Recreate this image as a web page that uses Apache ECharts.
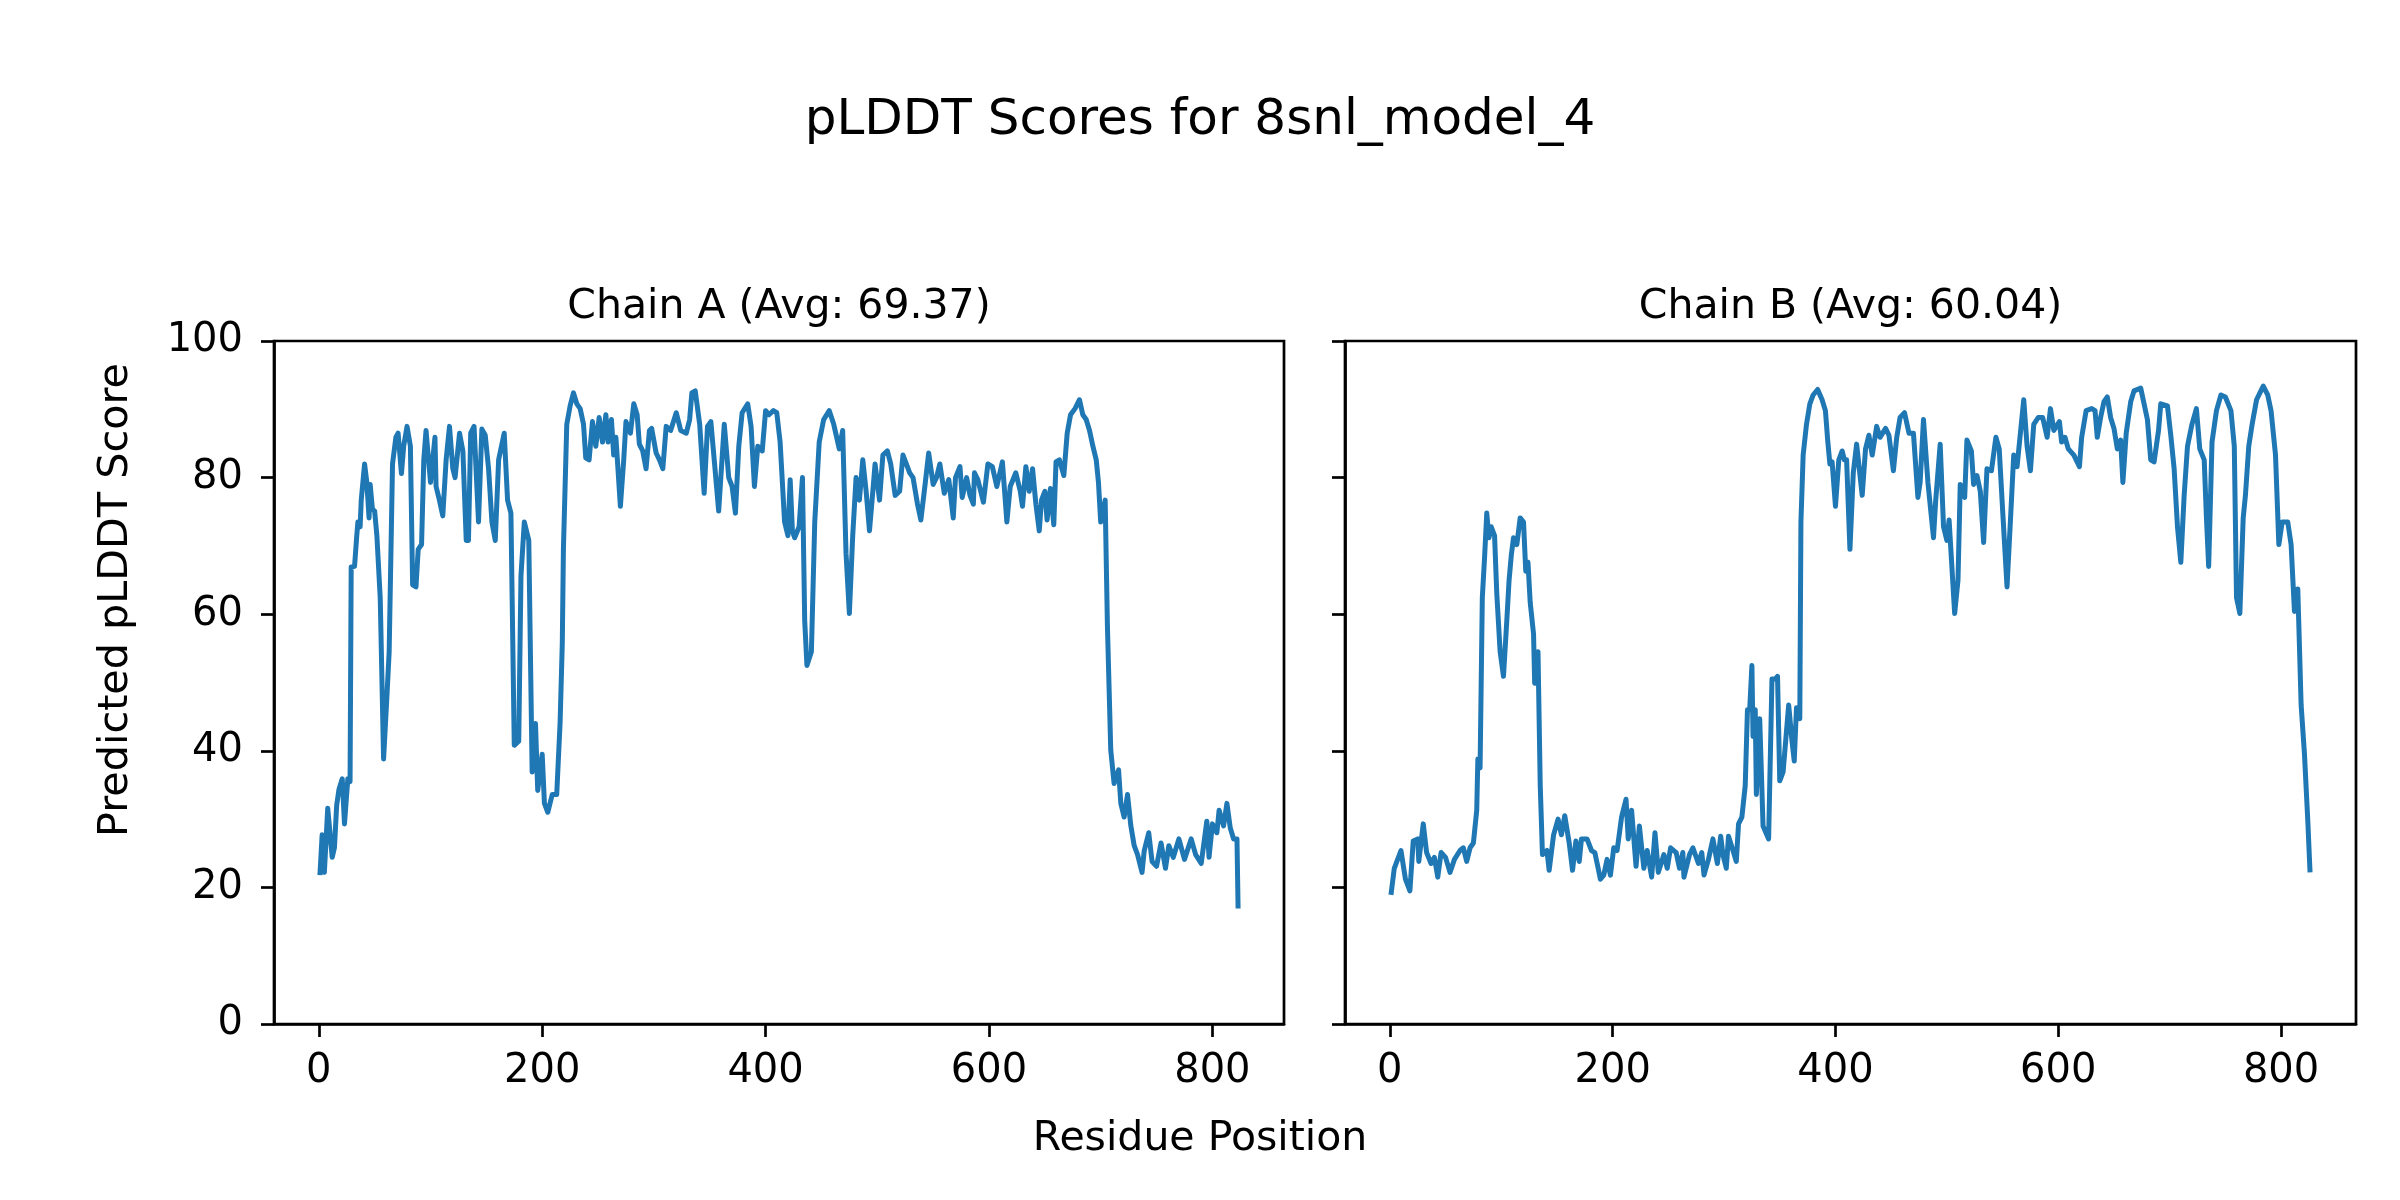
<!DOCTYPE html>
<html>
<head>
<meta charset="utf-8">
<script src="https://cdn.jsdelivr.net/npm/echarts@6/dist/echarts.min.js"></script>
<style>
html,body{margin:0;padding:0;background:#fff;}
#chart{width:2400px;height:1200px;}
</style>
</head>
<body>
<div id="chart"></div>
<script>
// ---------- data ----------
const figureTitle = "pLDDT Scores for 8snl_model_4";
const chainTitles = ["Chain A (Avg: 69.37)", "Chain B (Avg: 60.04)"];
const xAxisLabel = "Residue Position";
const yAxisLabel = "Predicted pLDDT Score";
const xTickValues = [0, 200, 400, 600, 800];
const yTickValues = [0, 20, 40, 60, 80, 100];

const chainAResidues = [1,3,5,8,12,14,16,18,21,23,26,28,29,32,34,35,37,38,41,43,45,46,48,50,52,55,58,61,63,66,69,71,74,76,79,82,84,87,89,92,94,96,100,104,105,108,111,114,117,120,122,126,129,132,134,136,139,143,146,149,152,155,158,161,166,169,172,175,179,181,184,188,191,194,196,200,202,205,209,213,216,218,219,222,225,228,231,234,237,239,242,245,248,251,254,257,259,262,264,266,270,273,275,279,282,285,287,290,293,296,298,302,305,308,311,315,320,324,329,332,334,337,341,345,348,351,354,358,363,367,370,373,376,379,384,387,390,393,397,400,403,407,410,413,417,420,422,424,426,430,433,435,437,441,444,448,452,457,461,466,469,472,475,478,481,484,487,490,493,496,498,502,505,509,512,516,520,523,526,529,532,536,539,543,546,550,553,556,560,564,568,570,574,576,580,583,586,587,590,595,599,603,607,612,616,619,624,628,630,633,636,639,642,645,647,650,652,655,658,660,663,667,670,673,677,681,684,687,690,693,696,698,700,704,706,709,712,716,718,721,724,727,730,733,737,739,743,746,750,754,758,761,765,770,775,781,785,790,795,797,800,804,806,810,813,816,819,822,823];
const chainAScores = [21.8,27.7,22.2,31.6,24.4,25.8,32,34.3,35.9,29.3,35.9,35.5,66.9,67,71.5,73.5,72.8,76.7,82,79.3,74.1,79,75.4,75.1,71.5,62.4,38.8,48,54.5,82,85.9,86.5,80.6,84.6,87.5,84.6,64.3,64,69.5,70.2,82.6,86.9,79.3,85.9,78.7,76.7,74.4,82.6,87.5,81.3,80,86.5,83.9,70.8,70.8,86.5,87.5,73.5,87.1,86.2,81.3,73.5,70.8,82.6,86.5,76.7,74.8,40.8,41.4,65.6,73.5,70.8,36.9,44,34.2,39.5,32.3,31,33.6,33.6,44,55.8,69.5,87.8,90.5,92.4,90.8,90.1,87.8,82.9,82.6,88.2,84.6,88.8,85.2,89.2,85.2,88.5,83.3,85.9,75.8,82.6,88.2,86.5,90.8,89.2,84.9,83.9,81.3,86.9,87.2,83.6,82.6,81.3,87.5,86.9,89.5,86.9,86.5,88.5,92.4,92.7,87.8,77.7,87.5,88.2,82.6,75.1,87.8,80,78.7,74.8,84.6,89.5,90.8,87.5,78.7,84.6,83.9,89.8,89.2,89.8,89.5,85.2,73.5,71.5,79.7,72.2,71.2,72.8,80,59.1,52.5,54.5,73.5,85.2,88.5,89.8,87.8,84.2,86.9,68.9,60.1,71.5,80,76.7,82.6,78,72.2,78,82,76.7,83.3,83.9,82,77.4,78,83.3,82,80.7,80,76.1,73.8,79.3,83.6,79,80,82,77.7,79.7,74.1,80,81.6,77.1,80,77.4,76.1,80.7,79.7,76.4,82,81.6,78.7,82.3,73.5,78.7,80.7,78,75.8,81.6,78,81.3,76.1,72.2,76.7,78,73.8,78.4,73.1,82.3,82.6,80.3,86.5,89.2,90.1,91.4,89.2,88.5,86.9,84.6,82.6,79.3,73.5,76.7,58.4,40.1,35.2,37.2,32.3,30.3,33.6,29,26.1,24.8,22.2,25.4,28,23.8,23.1,26.5,22.8,26.1,24.4,27.1,24.1,27.1,24.8,23.5,29.7,24.4,29.3,28,31.3,29,32.3,28.7,27.1,27.1,16.9];

const chainBResidues = [1,2,4,7,10,14,18,21,25,26,30,33,37,40,43,46,50,54,58,63,66,69,72,75,78,79,81,83,85,87,89,91,94,96,99,102,105,107,109,111,114,117,120,122,124,126,129,130,133,135,137,141,143,147,151,154,157,161,164,167,170,172,177,181,184,187,189,192,195,198,201,204,208,212,214,217,221,224,228,231,235,238,241,246,249,252,257,260,263,264,269,272,277,280,282,286,290,294,297,299,302,304,308,311,313,316,319,321,323,325,326,328,329,332,335,340,343,346,348,350,353,358,361,363,365,368,369,371,374,377,380,384,388,391,393,395,397,400,403,406,408,410,413,416,419,424,427,430,433,437,440,445,448,452,455,458,462,466,470,474,476,479,483,488,490,494,497,500,502,507,510,512,516,518,522,524,527,530,533,536,540,544,547,550,554,557,560,563,566,569,572,575,578,582,586,590,593,596,601,603,606,609,614,619,621,625,630,633,635,638,641,644,647,650,653,656,658,661,665,668,674,677,680,683,686,688,690,692,698,701,704,707,710,713,716,720,724,727,731,733,735,738,742,746,750,755,758,760,763,766,768,771,774,778,781,784,788,791,795,798,801,806,809,812,815,818,821,824,826];
const chainBScores = [18.9,20.2,22.8,24.1,25.4,21.2,19.5,26.8,27.1,23.8,29.3,25.1,23.5,24.4,21.5,25.1,24.4,22.2,24.1,25.4,25.8,23.8,25.8,26.5,31.3,38.8,37.5,62.4,68.2,74.8,71.2,72.8,71.5,63,54.5,50.9,59.1,64.9,68.6,71.2,70.2,74.1,73.5,66.3,67.6,61.7,57.1,49.9,54.5,34.9,24.8,25.4,22.5,27.7,30,27.7,30.5,26.5,22.5,26.8,23.8,27.1,27.1,25.4,25.1,22.8,21.2,21.8,24.1,21.8,25.8,25.4,30.3,32.9,27.1,31.3,23.1,29,22.8,25.4,21.5,28,22.2,24.8,22.8,25.8,25.1,22.8,25.1,21.5,24.8,25.8,23.5,25.1,21.8,24.1,27.1,23.5,27.5,24.8,22.8,27.5,25.4,23.8,29.3,30.3,34.9,46,46,52.5,42.1,46,33.6,44.7,29,27.1,50.5,50.5,50.9,35.6,36.9,46.7,41.4,38.5,46.3,44.7,73.5,83.3,87.8,90.8,92.1,92.9,91.4,89.8,85.5,82,82.3,75.8,82.6,83.9,82.6,82.6,69.5,80.7,84.9,77.4,84.2,86.2,83.3,87.5,85.9,87.2,86.2,81,85.9,88.8,89.5,86.5,86.5,77.1,79.3,88.5,79.3,71.2,76.7,84.9,72.8,70.8,73.8,60.1,65,79,77.1,85.5,83.9,79,80.3,78,70.5,81.3,81,85.9,84.2,75.4,64,73.5,83.3,81.6,86.5,91.4,84.6,81,87.8,88.8,88.8,85.9,90.1,86.9,88.2,85.2,85.9,84.2,83.3,81.6,85.9,89.8,90.1,89.8,85.9,88.8,91.1,91.8,88.8,87.2,84.2,85.5,79.3,86.5,91.1,92.7,93.1,90.8,88.5,82.6,82.3,84.6,86.9,90.8,90.5,86.2,81.3,72.8,67.6,77.4,84.6,87.8,90.1,84.2,82.6,74.1,67,85.2,89.8,92.1,91.8,89.8,84.6,62.4,60.1,74.1,77.4,84.6,87.8,91.4,92.4,93.4,92.1,89.8,83.3,70.2,73.5,73.5,70.2,60.4,63.7,46.7,39.5,29.7,22.2];

// ---------- chart ----------
const FONT = "DejaVu Sans";
const LINE_COLOR = "#1f77b4";
const chains = [
  {res: chainAResidues, val: chainAScores},
  {res: chainBResidues, val: chainBScores}
];
const grids = [
  {left: 274, top: 341, width: 1010, height: 683},
  {left: 1345, top: 341, width: 1011, height: 683}
];

function xRange(res) {
  const lo = Math.min(...res), hi = Math.max(...res);
  const m = 0.05 * (hi - lo);
  return [lo - m, hi + m];
}

const chart = echarts.init(document.getElementById('chart'), null, {renderer: 'canvas'});
const option = {
  animation: false,
  backgroundColor: '#ffffff',
  grid: grids.map(g => Object.assign({
    show: true, borderColor: '#000', borderWidth: 2.7, backgroundColor: 'transparent',
    containLabel: false
  }, g)),
  xAxis: chains.map((c, i) => {
    const r = xRange(c.res);
    return {
      type: 'value', gridIndex: i, min: r[0], max: r[1],
      splitLine: {show: false},
      axisLine: {show: true, onZero: false, lineStyle: {color: '#000', width: 2.7}},
      axisTick: {show: true, inside: false, length: 13, lineStyle: {color: '#000', width: 2.7}, customValues: xTickValues},
      axisLabel: {show: true, margin: 28, color: '#000', fontFamily: FONT, fontSize: 40, customValues: xTickValues}
    };
  }),
  yAxis: chains.map((c, i) => ({
    type: 'value', gridIndex: i, min: 0, max: 100,
    splitLine: {show: false},
    axisLine: {show: true, onZero: false, lineStyle: {color: '#000', width: 2.7}},
    axisTick: {show: true, inside: false, length: 13, lineStyle: {color: '#000', width: 2.7}, customValues: yTickValues},
    axisLabel: {show: i === 0, margin: 31, color: '#000', fontFamily: FONT, fontSize: 40, customValues: yTickValues}
  })),
  series: chains.map((c, i) => ({
    type: 'line', xAxisIndex: i, yAxisIndex: i,
    data: c.res.map((r, k) => [r, c.val[k]]),
    showSymbol: false, symbol: 'none', smooth: false,
    lineStyle: {color: LINE_COLOR, width: 5, join: 'round', cap: 'butt'},
    emphasis: {disabled: true}
  })),
  graphic: [
    {type: 'text', x: 1200, y: 121, style: {text: figureTitle, fontFamily: FONT, fontSize: 50, fill: '#000', align: 'center', verticalAlign: 'middle'}},
    {type: 'text', x: grids[0].left + grids[0].width / 2, y: 307, style: {text: chainTitles[0], fontFamily: FONT, fontSize: 41, fill: '#000', align: 'center', verticalAlign: 'middle'}},
    {type: 'text', x: grids[1].left + grids[1].width / 2, y: 307, style: {text: chainTitles[1], fontFamily: FONT, fontSize: 41, fill: '#000', align: 'center', verticalAlign: 'middle'}},
    {type: 'text', x: 1200, y: 1139, style: {text: xAxisLabel, fontFamily: FONT, fontSize: 41, fill: '#000', align: 'center', verticalAlign: 'middle'}},
    {type: 'text', x: 116, y: 600, rotation: Math.PI / 2, style: {text: yAxisLabel, fontFamily: FONT, fontSize: 41.3, fill: '#000', align: 'center', verticalAlign: 'middle'}}
  ]
};
chart.setOption(option);
</script>
</body>
</html>
